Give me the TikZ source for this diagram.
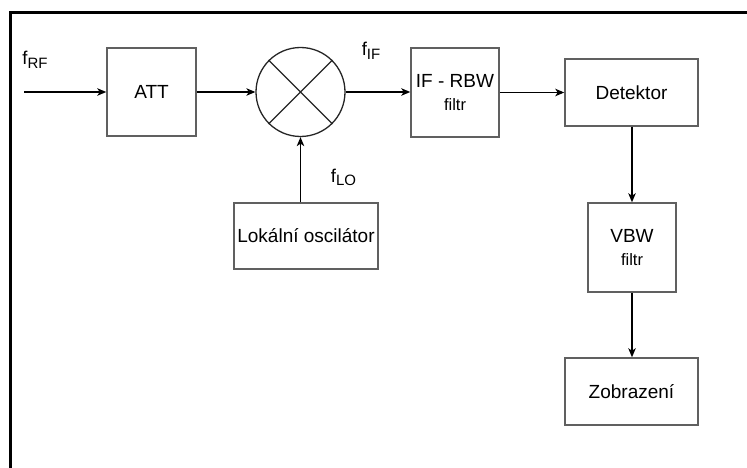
\documentclass[tikz,border=0pt]{standalone}
\usepackage{fontspec}
\setmainfont{Liberation Sans}
\usetikzlibrary{arrows.meta}
\definecolor{boxgray}{HTML}{606060}
\tikzset{
  blk/.style={draw=boxgray, line width=1.5pt, fill=white, minimum width=#1, inner sep=0pt, align=center, font=\fontsize{19}{22}\selectfont},
  conn/.style={line width=1.1pt, -{Stealth[length=9pt,width=7.5pt,inset=2.5pt]}},
  lbl/.style={inner sep=0pt, font=\fontsize{18.5}{21}\selectfont}
}
\newcommand{\subs}[1]{\raisebox{-0.35ex}{\fontsize{15}{15}\selectfont #1}}
\newcommand{\filtrtxt}{{\fontsize{16.5}{19}\selectfont filtr}}
\begin{document}
\begin{tikzpicture}[x=1pt, y=-1pt]
\useasboundingbox (0,0) rectangle (747,468);
% frame
\draw[line width=3pt] (10,468) -- (10,13) -- (747,13);
% blocks
\node[blk=89pt, minimum height=88pt] (att) at (151.5,92) {ATT};
\node[draw=black!85, line width=1.3pt, circle, minimum size=89pt, inner sep=0pt] (mix) at (300.5,92) {};
\draw[line width=1.3pt, black!85] (mix.north west) -- (mix.south east) (mix.north east) -- (mix.south west);
\node[blk=88pt, minimum height=89pt] (ifr) at (455,92.5) {IF - RBW\\[1.5pt]\filtrtxt};
\node[blk=133pt, minimum height=67pt] (det) at (631.5,92.5) {Detektor};
\node[blk=144pt, minimum height=66pt] (lo) at (306,236) {Lokální oscilátor};
\node[blk=88pt, minimum height=89pt] (vbw) at (632,247.5) {VBW\\[1.5pt]\filtrtxt};
\node[blk=133pt, minimum height=67pt] (zob) at (631.5,391.5) {Zobrazení};
% labels
\node[lbl] (frf) at (35,60) {f\subs{RF}};
\node[lbl] (fif) at (371,51) {f\subs{IF}};
\node[lbl] (flo) at (343.5,177.5) {f\subs{LO}};
% connectors
\coordinate (in) at (24,92);
\draw[conn] (in) -- (att.west);
\draw[conn] (att.east) -- (mix.west);
\draw[conn] (mix.east) -- (ifr.west |- mix.east);
\draw[conn] (ifr.east) -- (det.west);
\draw[conn] (mix |- lo.north) -- (mix.south);
\draw[conn] (det.south -| vbw.north) -- (vbw.north);
\draw[conn] (vbw.south) -- (zob.north -| vbw.south);
\end{tikzpicture}
\end{document}
